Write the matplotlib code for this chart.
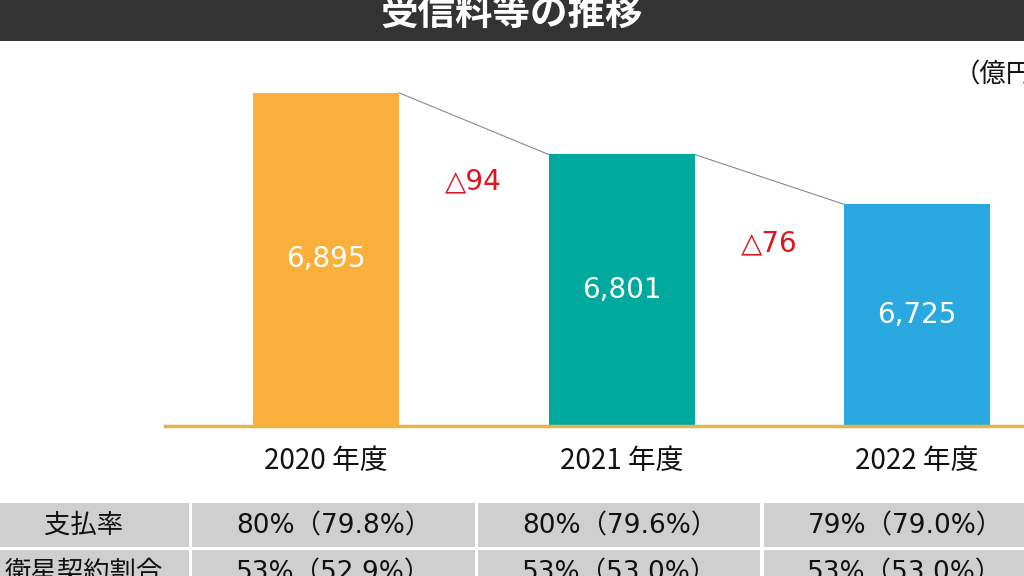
import matplotlib
matplotlib.use("Agg")
import matplotlib.pyplot as plt
from matplotlib.patches import Rectangle

plt.rcParams['font.family'] = ['Noto Sans CJK JP', 'DejaVu Sans']

# ---- data ----
years = ['2020 年度', '2021 年度', '2022 年度']
revenue = [6895, 6801, 6725]          # 億円
bar_colors = ['#FBB03B', '#00A99D', '#2AA9E0']
row_labels = ['支払率', '衛星契約割合']
pay_rate = ['80%（79.8%）', '80%（79.6%）', '79%（79.0%）']
sat_rate = ['53%（52.9%）', '53%（53.0%）', '53%（53.0%）']
title = '受信料等の推移'
unit = '（億円）'

W, H = 1024, 576
fig = plt.figure(figsize=(W / 100, H / 100), dpi=100)

# background overlay in pixel coordinates (layout only)
bg = fig.add_axes([0, 0, 1, 1])
bg.set_xlim(0, W)
bg.set_ylim(H, 0)
bg.axis('off')
bg.add_patch(Rectangle((0, 0), W, 41, color='#333333', lw=0))

# ---- bar chart ----
ax_left, ax_right, ax_top, ax_bot = 165, 1024, 41, 426
ax = fig.add_axes([ax_left / W, (H - ax_bot) / H,
                   (ax_right - ax_left) / W, (ax_bot - ax_top) / H])
ax.patch.set_alpha(0)
ymin, ymax = 6387, 6974
ax.set_ylim(ymin, ymax)
ax.set_xlim(-0.545, 2.362)
bw = 0.494
x = list(range(len(years)))
ax.bar(x, revenue, width=bw, color=bar_colors, zorder=2)
for s in ['top', 'right', 'left']:
    ax.spines[s].set_visible(False)
ax.spines['bottom'].set_color('#E5B54A')
ax.spines['bottom'].set_linewidth(2.5)
ax.spines['bottom'].set_zorder(3)
ax.set_yticks([])
ax.set_xticks([])

for xi, v in zip(x, revenue):
    ax.text(xi, (ymin + v) / 2, f'{v:,}', ha='center', va='center',
            color='white', fontsize=20, family=['DejaVu Sans'], zorder=4)
    ax.annotate(years[xi], xy=(xi, 0), xycoords=('data', 'axes fraction'),
                xytext=(0, -25), textcoords='offset points',
                ha='center', va='center', fontsize=20, color='#111111',
                annotation_clip=False)

for i in range(len(revenue) - 1):
    ax.plot([x[i] + bw / 2, x[i + 1] - bw / 2], [revenue[i], revenue[i + 1]],
            color='#8a8a8a', lw=0.8, zorder=1)
    d = revenue[i] - revenue[i + 1]
    ax.annotate(f'△{d}', xy=(x[i] + 0.5, revenue[i]),
                xytext=(0, -64), textcoords='offset points',
                ha='center', va='center', color='#E0141E', fontsize=20,
                family=['DejaVu Sans', 'Noto Sans CJK JP'])

# ---- title & unit ----
fig.text(0.5, 1 - 13 / H, title, ha='center', va='center', color='white',
         fontsize=27, fontweight='bold')
fig.text(954 / W, 1 - 75 / H, unit, ha='left', va='center', color='#111111',
         fontsize=19)

# ---- table ----
col_edges = [(-40, 189), (192, 475), (478, 760), (764, 1060)]
row_edges = [(503, 547), (550, 600)]
col_centers = [84, 334, 620, 905]
cell_color = '#CFCFCF'
rows = [pay_rate, sat_rate]
for r, (y0, y1) in enumerate(row_edges):
    cy = 526 if r == 0 else 573
    for c, (x0, x1) in enumerate(col_edges):
        bg.add_patch(Rectangle((x0, y0), x1 - x0, y1 - y0, color=cell_color, lw=0))
        txt = row_labels[r] if c == 0 else rows[r][c - 1]
        bg.text(col_centers[c], cy, txt, ha='center', va='center', fontsize=19,
                color='#111111', family=['DejaVu Sans', 'Noto Sans CJK JP'])

fig.savefig('out.png', dpi=100)
